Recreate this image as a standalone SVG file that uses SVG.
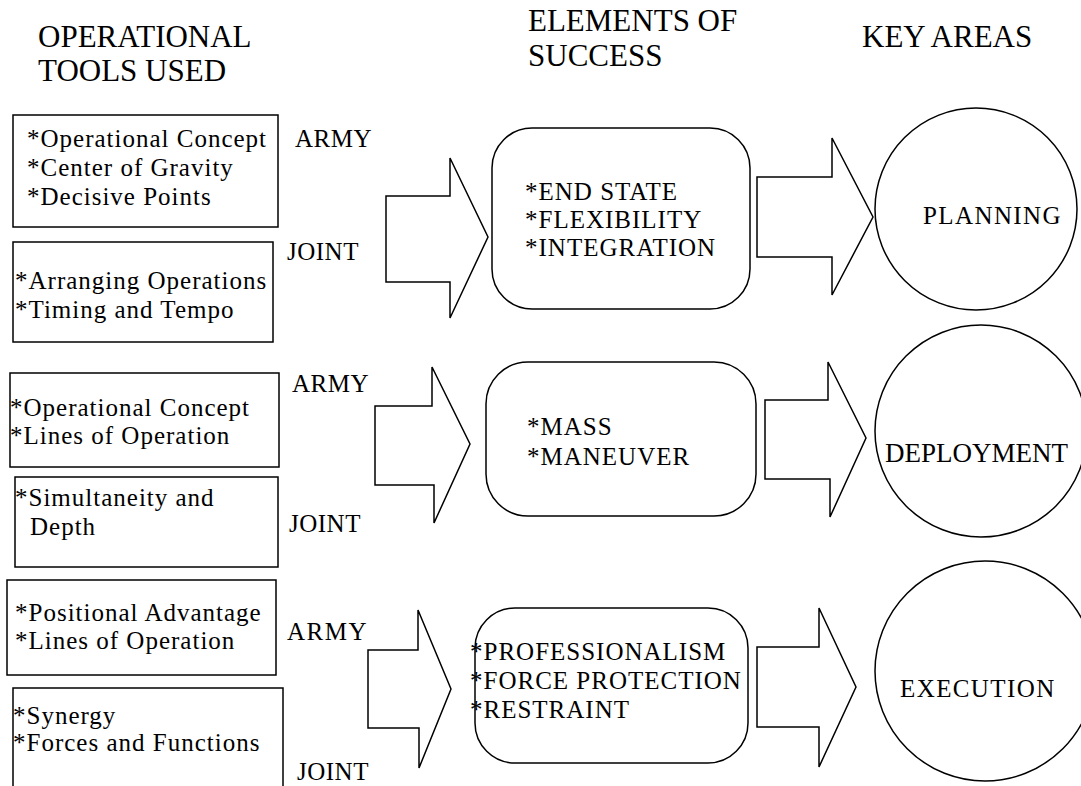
<svg xmlns="http://www.w3.org/2000/svg" width="1081" height="786" viewBox="0 0 1081 786">
<rect width="1081" height="786" fill="#fff"/>
<g id="headers">
<text style="font-family:'Liberation Serif'" font-size="31" x="38" y="47">OPERATIONAL</text>
<text style="font-family:'Liberation Serif'" font-size="31" x="38" y="81">TOOLS USED</text>
<text style="font-family:'Liberation Serif'" font-size="31" x="528" y="31">ELEMENTS OF</text>
<text style="font-family:'Liberation Serif'" font-size="31" x="528" y="66">SUCCESS</text>
<text style="font-family:'Liberation Serif'" font-size="31" x="862" y="47">KEY AREAS</text>
</g>
<g id="connectors" fill="#fff" stroke="#000" stroke-width="1.5">
<polygon points="386,196 450,196 450,158 488,237 450,318 450,282 386,282"/>
<polygon points="757,177 832,177 832,138 873,217 832,295 832,257 757,257"/>
<polygon points="375,406 432,406 432,367 470,444 434,523 434,485 375,485"/>
<polygon points="765,400 828,400 828,362 866,438 830,517 830,479 765,479"/>
<polygon points="368,650 418,650 418,610 451,689 419,768 419,728 368,728"/>
<polygon points="757,647 819,647 819,608 856,687 819,767 819,727 757,727"/>
</g>
<g id="army1">
<rect x="13" y="115" width="265" height="112" fill="#fff" stroke="#000" stroke-width="1.5"/>
<text style="font-family:'Liberation Serif'" font-size="25" letter-spacing="1" x="27" y="147">*Operational Concept</text>
<text style="font-family:'Liberation Serif'" font-size="25" letter-spacing="1" x="27" y="176">*Center of Gravity</text>
<text style="font-family:'Liberation Serif'" font-size="25" letter-spacing="1" x="27" y="205">*Decisive Points</text>
</g>
<g id="label-army1"><text style="font-family:'Liberation Serif'" font-size="25" letter-spacing="0.5" x="295" y="147">ARMY</text></g>
<g id="joint1">
<rect x="13" y="242" width="260" height="100" fill="#fff" stroke="#000" stroke-width="1.5"/>
<text style="font-family:'Liberation Serif'" font-size="25" letter-spacing="1" x="15" y="289">*Arranging Operations</text>
<text style="font-family:'Liberation Serif'" font-size="25" letter-spacing="1" x="15" y="318">*Timing and Tempo</text>
</g>
<g id="label-joint1"><text style="font-family:'Liberation Serif'" font-size="25" letter-spacing="0.5" x="287" y="260">JOINT</text></g>
<g id="success1">
<rect x="492" y="128" width="258" height="181" rx="40" ry="40" fill="#fff" stroke="#000" stroke-width="1.5"/>
<text style="font-family:'Liberation Serif'" font-size="25" letter-spacing="1" x="525" y="200">*END STATE</text>
<text style="font-family:'Liberation Serif'" font-size="25" letter-spacing="1" x="525" y="228">*FLEXIBILITY</text>
<text style="font-family:'Liberation Serif'" font-size="25" letter-spacing="1" x="525" y="256">*INTEGRATION</text>
</g>
<g id="planning">
<circle cx="976" cy="209" r="101" fill="#fff" stroke="#000" stroke-width="1.5"/>
<text style="font-family:'Liberation Serif'" font-size="25" letter-spacing="1.4" x="923" y="224">PLANNING</text>
</g>
<g id="army2">
<rect x="10" y="373" width="269" height="94" fill="#fff" stroke="#000" stroke-width="1.5"/>
<text style="font-family:'Liberation Serif'" font-size="25" letter-spacing="1" x="10" y="416">*Operational Concept</text>
<text style="font-family:'Liberation Serif'" font-size="25" letter-spacing="1" x="10" y="444">*Lines of Operation</text>
</g>
<g id="label-army2"><text style="font-family:'Liberation Serif'" font-size="25" letter-spacing="0.5" x="292" y="392">ARMY</text></g>
<g id="joint2">
<rect x="15" y="477" width="263" height="90" fill="#fff" stroke="#000" stroke-width="1.5"/>
<text style="font-family:'Liberation Serif'" font-size="25" letter-spacing="1" x="15" y="506">*Simultaneity and</text>
<text style="font-family:'Liberation Serif'" font-size="25" letter-spacing="1" x="30" y="535">Depth</text>
</g>
<g id="label-joint2"><text style="font-family:'Liberation Serif'" font-size="25" letter-spacing="0.5" x="289" y="532">JOINT</text></g>
<g id="success2">
<rect x="486" y="362" width="270" height="154" rx="42" ry="42" fill="#fff" stroke="#000" stroke-width="1.5"/>
<text style="font-family:'Liberation Serif'" font-size="25" letter-spacing="1" x="527" y="435">*MASS</text>
<text style="font-family:'Liberation Serif'" font-size="25" letter-spacing="1" x="527" y="465">*MANEUVER</text>
</g>
<g id="deployment">
<circle cx="981" cy="431" r="106" fill="#fff" stroke="#000" stroke-width="1.5"/>
<text style="font-family:'Liberation Serif'" font-size="27" x="885" y="462">DEPLOYMENT</text>
</g>
<g id="army3">
<rect x="7" y="580" width="269" height="95" fill="#fff" stroke="#000" stroke-width="1.5"/>
<text style="font-family:'Liberation Serif'" font-size="25" letter-spacing="1" x="15" y="621">*Positional Advantage</text>
<text style="font-family:'Liberation Serif'" font-size="25" letter-spacing="1" x="15" y="649">*Lines of Operation</text>
</g>
<g id="label-army3"><text style="font-family:'Liberation Serif'" font-size="25" letter-spacing="1.5" x="287" y="640">ARMY</text></g>
<g id="joint3">
<rect x="13" y="688" width="270" height="120" fill="#fff" stroke="#000" stroke-width="1.5"/>
<text style="font-family:'Liberation Serif'" font-size="25" letter-spacing="1" x="13" y="724">*Synergy</text>
<text style="font-family:'Liberation Serif'" font-size="25" letter-spacing="1" x="13" y="751">*Forces and Functions</text>
</g>
<g id="label-joint3"><text style="font-family:'Liberation Serif'" font-size="25" letter-spacing="0.5" x="297" y="780">JOINT</text></g>
<g id="success3">
<rect x="475" y="608" width="273" height="155" rx="40" ry="40" fill="#fff" stroke="#000" stroke-width="1.5"/>
<text style="font-family:'Liberation Serif'" font-size="25" letter-spacing="1" x="470" y="660">*PROFESSIONALISM</text>
<text style="font-family:'Liberation Serif'" font-size="25" letter-spacing="1" x="470" y="689">*FORCE PROTECTION</text>
<text style="font-family:'Liberation Serif'" font-size="25" letter-spacing="1" x="470" y="718">*RESTRAINT</text>
</g>
<g id="execution">
<circle cx="985" cy="671" r="110" fill="#fff" stroke="#000" stroke-width="1.5"/>
<text style="font-family:'Liberation Serif'" font-size="25" letter-spacing="1.4" x="900" y="697">EXECUTION</text>
</g>
</svg>
